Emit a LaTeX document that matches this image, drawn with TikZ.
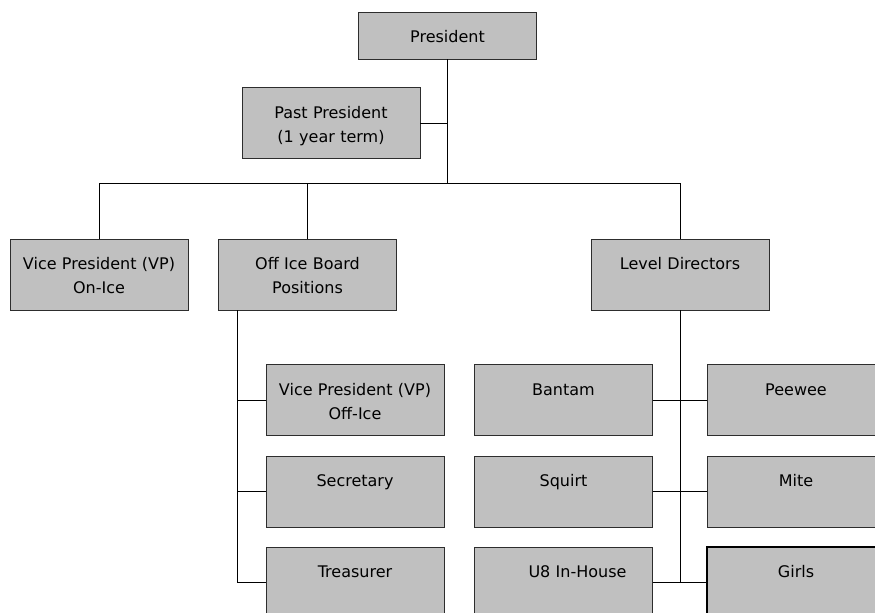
\documentclass[tikz,border=0pt]{standalone}
\usepackage{fontspec}
\setmainfont{DejaVu Sans}
\usetikzlibrary{positioning}
\definecolor{boxgray}{RGB}{192,192,192}
\definecolor{edgegray}{RGB}{45,45,45}
\tikzset{
  post/.style={draw=edgegray,fill=boxgray,line width=0.75pt,inner sep=0pt,outer sep=0pt,
    minimum width=133.5pt,minimum height=53.25pt,text width=133.5pt,align=center,
    text height=23pt,text depth=30.25pt,font=\fontsize{12}{18}\selectfont},
  link/.style={draw=black,line width=0.75pt}
}
\begin{document}
\begin{tikzpicture}[x=0.75pt,y=-0.75pt]
\useasboundingbox (0,0) rectangle (875,612);
\node[post,minimum height=35.25pt,text depth=12.25pt] (pres) at (447.5,35.5) {President};
\node[post] (past) at (331,123) {Past President\\(1 year term)};
\node[post] (vpon) at (99,274.5) {Vice President (VP)\\On-Ice};
\node[post] (office) at (307.5,274.5) {Off Ice Board\\Positions};
\node[post] (levels) at (680,274.5) {Level Directors};
\node[post] (vpoff) at (355,400) {Vice President (VP)\\Off-Ice};
\node[post] (secr) at (355,491.5) {Secretary};
\node[post] (treas) at (355,582.5) {Treasurer};
\node[post] (bantam) at (563.5,400) {Bantam};
\node[post] (squirt) at (563.5,491.5) {Squirt};
\node[post] (u8) at (563.5,582.5) {\hspace*{21pt}U8 In-House};
\node[post] (peewee) at (796,400) {Peewee};
\node[post] (mite) at (796,491.5) {Mite};
\node[post,draw=black,line width=1.5pt] (girls) at (796,582.5) {Girls};
\coordinate (bar) at (0,183);
\coordinate (offroot) at ([xshift=14.6pt]office.south west);
\draw[link] (pres.south) -- (pres.south |- bar);
\draw[link] (past.east) -- (past.east -| pres.south);
\draw[link] (vpon.north) |- (levels.north |- bar) -- (levels.north);
\draw[link] (office.north) -- (office.north |- bar);
\draw[link] (offroot) |- (treas.west);
\draw[link] (vpoff.west) -- (vpoff.west -| offroot);
\draw[link] (secr.west) -- (secr.west -| offroot);
\draw[link] (levels.south) -- (levels.south |- u8.east);
\draw[link] (bantam.east) -- (peewee.west);
\draw[link] (squirt.east) -- (mite.west);
\draw[link] (u8.east) -- (girls.west);
\end{tikzpicture}
\end{document}
